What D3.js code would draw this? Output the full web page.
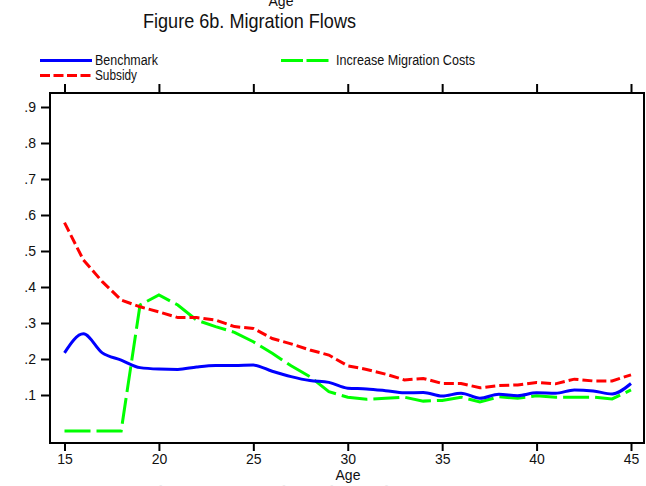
<!DOCTYPE html>
<html><head><meta charset="utf-8">
<script src="https://cdn.jsdelivr.net/npm/d3@7"></script>
<style>body{margin:0;background:#fff}svg{display:block}text{font-family:"Liberation Sans",Arial,sans-serif}</style>
</head><body><div id="chart"></div>
<script>
const ages = d3.range(15, 46);
const benchmark = [0.217,0.270,0.217,0.197,0.176,0.172,0.171,0.178,0.182,0.182,0.183,0.166,0.151,0.140,0.135,0.119,0.117,0.112,0.106,0.107,0.097,0.105,0.091,0.102,0.098,0.106,0.105,0.114,0.111,0.103,0.132];
const subsidy = [0.579,0.475,0.415,0.364,0.345,0.331,0.315,0.315,0.308,0.290,0.285,0.257,0.242,0.225,0.211,0.181,0.171,0.158,0.142,0.146,0.132,0.132,0.120,0.126,0.128,0.135,0.131,0.144,0.139,0.139,0.156];
const migCost = [0,0,0,0,0.350,0.378,0.350,0.308,0.290,0.274,0.248,0.216,0.181,0.151,0.109,0.094,0.088,0.091,0.094,0.083,0.085,0.094,0.081,0.095,0.091,0.098,0.094,0.094,0.094,0.089,0.114];
const xTicks = [15,20,25,30,35,40,45];
const yTicks = [0.1,0.2,0.3,0.4,0.5,0.6,0.7,0.8,0.9];
const yTickLabels = [".1",".2",".3",".4",".5",".6",".7",".8",".9"];
const seriesNames = ["Benchmark","Subsidy","Increase Migration Costs"];

const W=646,H=486;
const svg=d3.select("#chart").append("svg").attr("width",W).attr("height",H);
const x=d3.scaleLinear().domain([15,45]).range([64.5,631]);
const y=d3.scaleLinear().domain([0,0.9]).range([431,107]);
const box={l:50,t:93,r:644,b:443};

// clipped top "Age" and title
svg.append("text").attr("x",281).attr("y",6).attr("text-anchor","middle").attr("font-size",14).attr("fill","#111").text("Age");
svg.append("text").attr("x",143).attr("y",28).attr("font-size",21).attr("fill","#111").attr("textLength",213).attr("lengthAdjust","spacingAndGlyphs").text("Figure 6b. Migration Flows");

// legend
const lg=[
 {name:seriesNames[0],color:"#0000ff",dash:null,x1:40,x2:92,y:60.5,tx:95,tw:63},
 {name:seriesNames[1],color:"#ff0000",dash:"10,3.5",x1:40,x2:92,y:75.5,tx:95,tw:42},
 {name:seriesNames[2],color:"#00ff00",dash:"22,3.5",x1:281,x2:329,y:60.5,tx:336,tw:139}
];
lg.forEach(d=>{
 svg.append("line").attr("x1",d.x1).attr("x2",d.x2).attr("y1",d.y).attr("y2",d.y)
  .attr("stroke",d.color).attr("stroke-width",3).attr("stroke-dasharray",d.dash);
 svg.append("text").attr("x",d.tx).attr("y",d.y+4.5).attr("font-size",14).attr("fill","#111")
  .attr("textLength",d.tw).attr("lengthAdjust","spacingAndGlyphs").text(d.name);
});

// frame
svg.append("rect").attr("x",box.l).attr("y",box.t).attr("width",box.r-box.l).attr("height",box.b-box.t)
 .attr("fill","none").attr("stroke","#000").attr("stroke-width",2);

// bottom axis
const bx=svg.append("g").attr("transform",`translate(0,${box.b})`).call(d3.axisBottom(x).tickValues(xTicks).tickSize(8).tickPadding(3).tickFormat(d3.format("d")));
bx.select(".domain").remove();
bx.selectAll("line").attr("stroke","#000").attr("stroke-width",2);
bx.selectAll("text").attr("font-size",14).attr("fill","#111").style("font-family","Liberation Sans, Arial, sans-serif");
// top axis (ticks only)
const tx=svg.append("g").attr("transform",`translate(0,${box.t})`).call(d3.axisTop(x).tickValues(xTicks).tickSize(9).tickFormat(""));
tx.select(".domain").remove();
tx.selectAll("line").attr("stroke","#000").attr("stroke-width",2);
// left axis
const ly=svg.append("g").attr("transform",`translate(${box.l},0)`).call(d3.axisLeft(y).tickValues(yTicks).tickSize(9).tickPadding(5).tickFormat((d,i)=>yTickLabels[i]));
ly.select(".domain").remove();
ly.selectAll("line").attr("stroke","#000").attr("stroke-width",2);
ly.selectAll("text").attr("font-size",14).attr("fill","#111").style("font-family","Liberation Sans, Arial, sans-serif");

svg.append("text").attr("x",348).attr("y",480).attr("text-anchor","middle").attr("font-size",14).attr("fill","#111").text("Age");
// faint clipped title at bottom
svg.append("text").attr("x",143).attr("y",505).attr("font-size",27).attr("fill","#ececec").attr("textLength",290).attr("lengthAdjust","spacingAndGlyphs").text("Figure 6a. Migration Flows");

// lines
const lineLin=d3.line().x((d,i)=>x(ages[i])).y(d=>y(d));
const lineSm=d3.line().x((d,i)=>x(ages[i])).y(d=>y(d)).curve(d3.curveMonotoneX);
svg.append("path").attr("d",lineLin(migCost)).attr("fill","none").attr("stroke","#00ff00").attr("stroke-width",3).attr("stroke-dasharray","26,6");
svg.append("path").attr("d",lineLin(subsidy)).attr("fill","none").attr("stroke","#ff0000").attr("stroke-width",3).attr("stroke-dasharray","10,4");
svg.append("path").attr("d",lineSm(benchmark)).attr("fill","none").attr("stroke","#0000ff").attr("stroke-width",3);
</script></body></html>
